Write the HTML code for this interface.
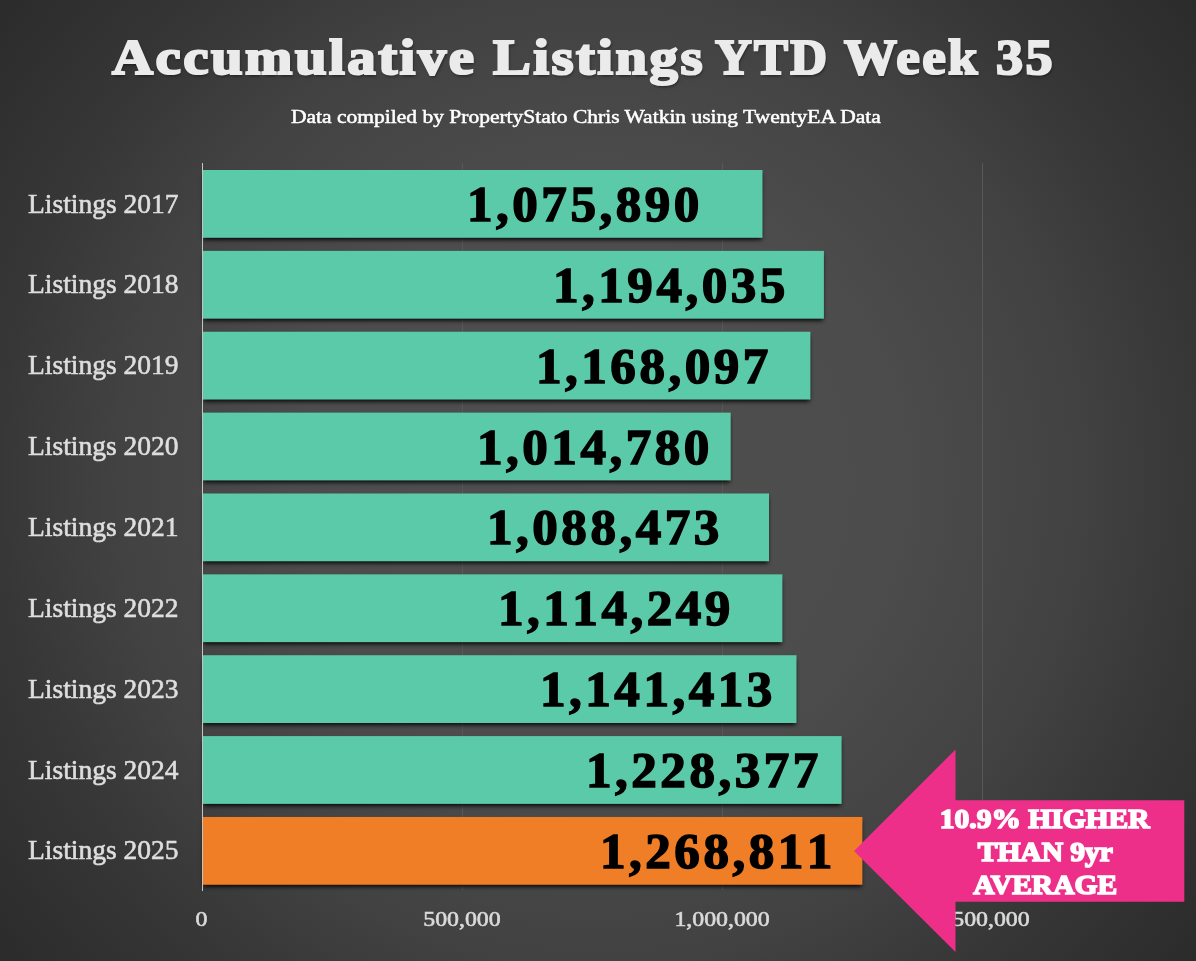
<!DOCTYPE html>
<html>
<head>
<meta charset="utf-8">
<title>Accumulative Listings YTD Week 35</title>
<style>
  html, body { margin: 0; padding: 0; }
  body {
    width: 1196px; height: 961px; overflow: hidden; position: relative;
    font-family: "Liberation Serif", serif;
    background: #2b2b2b;
  }
  #bg {
    position: absolute; left: 0; top: 0; width: 1196px; height: 961px;
    background: radial-gradient(circle 767px at 598px 480px, #4f4f4f 0%, #4c4c4c 39%, #424242 62.6%, #373737 78%, #2b2b2b 100%);
  }
  .abs { position: absolute; white-space: nowrap; will-change: transform; }
  #title {
    left: 111px; top: 22px; width: 941px; height: 70px;
    color: #ebebeb; font-weight: bold; font-size: 51px; line-height: 70px; letter-spacing: 2.2px;
    -webkit-text-stroke: 2.2px #ebebeb;
    text-shadow: 1px 2px 3px rgba(0,0,0,0.55);
  }
  #title span, #subtitle span, .cat span, .val span, .tick span, #note span {
    display: inline-block; transform-origin: 0 50%; white-space: nowrap;
  }
  #subtitle {
    left: 291px; top: 105px; height: 24px; line-height: 24px;
    color: #ffffff; font-size: 19px; -webkit-text-stroke: 0.5px #fff;
  }
  .grid { position: absolute; top: 163px; height: 727px; width: 1px; background: #585858; }
  #axis { position: absolute; left: 201.5px; top: 163px; width: 1.4px; height: 728px; background: #c4c4c4; }
  .bar {
    position: absolute; left: 202.5px; height: 67.8px; background: #5bcaa8;
    box-shadow: 0 3px 4px -1px rgba(0,0,0,0.9);
  }
  .bar.o { background: #f07e26; }
  .cat {
    left: 28px; height: 30px; line-height: 30px; font-size: 28px; color: #dedede; -webkit-text-stroke: 0.6px #dedede;
  }
  .val {
    height: 60px; line-height: 60px; font-size: 49.6px; font-weight: bold; color: #000;
    -webkit-text-stroke: 1.5px #000; font-kerning: none; letter-spacing: 3.4px;
  }
  .tick {
    top: 907.2px; height: 24px; line-height: 24px; font-size: 21.5px; color: #dadada; font-kerning: none; -webkit-text-stroke: 0.6px #dadada;
    font-family: "Liberation Serif", serif; text-align: center; width: 140px;
  }
  #title span { position: absolute; top: 0; }
  #t1 { left: 1.0px; transform: scaleX(1.1157); }
  #t2 { left: 382.0px; transform: scaleX(1.1125); }
  #t3 { left: 604.0px; transform: scaleX(1.0000); }
  #t4 { left: 732.8px; transform: scaleX(1.0386); }
  #t5 { left: 884.7px; transform: scaleX(1.0628); }
  #subtitle span { transform: scaleX(1.132); }
  .cat span { transform: scaleX(0.982); }
  .val span { transform: scaleX(1.03); }
  .tick span { transform-origin: 50% 50%; transform: scaleX(1.107); }
  #note span { transform-origin: 50% 50%; transform: scaleX(1.085); }
  #arrow { position: absolute; left: 0; top: 0; }
  #note {
    left: 895px; top: 802.6px; width: 300px; text-align: center;
    color: #fff; font-weight: bold; font-size: 27.2px; line-height: 33.2px; -webkit-text-stroke: 1.6px #fff;
  }
</style>
</head>
<body>
<div id="bg"></div>

<div id="title" class="abs"><span id="t1">Accumulative</span> <span id="t2">Listings</span> <span id="t3">YTD</span> <span id="t4">Week</span> <span id="t5">35</span></div>
<div id="subtitle" class="abs"><span>Data compiled by PropertyStato Chris Watkin using TwentyEA Data</span></div>

<div class="grid" style="left:462px"></div>
<div class="grid" style="left:722px"></div>
<div class="grid" style="left:982px"></div>

<svg id="bars" width="1196" height="961" viewBox="0 0 1196 961" style="position:absolute;left:0;top:0">
  <defs><filter id="sh" x="-5%" y="-30%" width="110%" height="160%"><feGaussianBlur stdDeviation="2"/></filter></defs>
  <rect x="203.5" y="174.00" width="558.0" height="65.8" fill="#000" fill-opacity="0.9" filter="url(#sh)"/>
  <rect x="203.5" y="254.87" width="619.4" height="65.8" fill="#000" fill-opacity="0.9" filter="url(#sh)"/>
  <rect x="203.5" y="335.74" width="605.9" height="65.8" fill="#000" fill-opacity="0.9" filter="url(#sh)"/>
  <rect x="203.5" y="416.61" width="526.2" height="65.8" fill="#000" fill-opacity="0.9" filter="url(#sh)"/>
  <rect x="203.5" y="497.48" width="564.5" height="65.8" fill="#000" fill-opacity="0.9" filter="url(#sh)"/>
  <rect x="203.5" y="578.35" width="577.9" height="65.8" fill="#000" fill-opacity="0.9" filter="url(#sh)"/>
  <rect x="203.5" y="659.22" width="592.0" height="65.8" fill="#000" fill-opacity="0.9" filter="url(#sh)"/>
  <rect x="203.5" y="740.09" width="637.1" height="65.8" fill="#000" fill-opacity="0.9" filter="url(#sh)"/>
  <rect x="203.5" y="820.96" width="657.9" height="65.8" fill="#000" fill-opacity="0.9" filter="url(#sh)"/>
  <rect x="202.5" y="170.00" width="560.0" height="67.8" fill="#5bcaa8"/>
  <rect x="202.5" y="250.87" width="621.4" height="67.8" fill="#5bcaa8"/>
  <rect x="202.5" y="331.74" width="607.9" height="67.8" fill="#5bcaa8"/>
  <rect x="202.5" y="412.61" width="528.2" height="67.8" fill="#5bcaa8"/>
  <rect x="202.5" y="493.48" width="566.5" height="67.8" fill="#5bcaa8"/>
  <rect x="202.5" y="574.35" width="579.9" height="67.8" fill="#5bcaa8"/>
  <rect x="202.5" y="655.22" width="594.0" height="67.8" fill="#5bcaa8"/>
  <rect x="202.5" y="736.09" width="639.1" height="67.8" fill="#5bcaa8"/>
  <rect x="202.5" y="816.96" width="659.9" height="67.8" fill="#f07e26"/>
</svg>
<div id="axis"></div>

<div class="abs cat" style="top:188.50px"><span>Listings 2017</span></div>
<div class="abs cat" style="top:269.37px"><span>Listings 2018</span></div>
<div class="abs cat" style="top:350.24px"><span>Listings 2019</span></div>
<div class="abs cat" style="top:431.11px"><span>Listings 2020</span></div>
<div class="abs cat" style="top:511.98px"><span>Listings 2021</span></div>
<div class="abs cat" style="top:592.85px"><span>Listings 2022</span></div>
<div class="abs cat" style="top:673.72px"><span>Listings 2023</span></div>
<div class="abs cat" style="top:754.59px"><span>Listings 2024</span></div>
<div class="abs cat" style="top:835.46px"><span>Listings 2025</span></div>

<div class="abs val" style="left:466.9px;top:175.00px"><span>1,075,890</span></div>
<div class="abs val" style="left:553.0px;top:255.87px"><span>1,194,035</span></div>
<div class="abs val" style="left:536.2px;top:336.74px"><span>1,168,097</span></div>
<div class="abs val" style="left:476.5px;top:417.61px"><span>1,014,780</span></div>
<div class="abs val" style="left:487.0px;top:498.48px"><span>1,088,473</span></div>
<div class="abs val" style="left:497.5px;top:579.35px"><span>1,114,249</span></div>
<div class="abs val" style="left:539.7px;top:660.22px"><span>1,141,413</span></div>
<div class="abs val" style="left:585.6px;top:741.09px"><span>1,228,377</span></div>
<div class="abs val" style="left:600.0px;top:821.96px"><span>1,268,811</span></div>

<div class="abs tick" style="left:131.3px"><span>0</span></div>
<div class="abs tick" style="left:392px"><span>500,000</span></div>
<div class="abs tick" style="left:652px"><span>1,000,000</span></div>
<div class="abs tick" style="left:912px"><span>1,500,000</span></div>

<svg id="arrow" width="1196" height="961" viewBox="0 0 1196 961">
  <polygon points="854,851 955.5,749.5 955.5,800.3 1184.3,800.3 1184.3,901.7 955.5,901.7 955.5,952" fill="#ee2f8a"/>
</svg>
<div id="note" class="abs"><span>10.9% HIGHER</span><br><span>THAN 9yr</span><br><span>AVERAGE</span></div>

</body>
</html>
